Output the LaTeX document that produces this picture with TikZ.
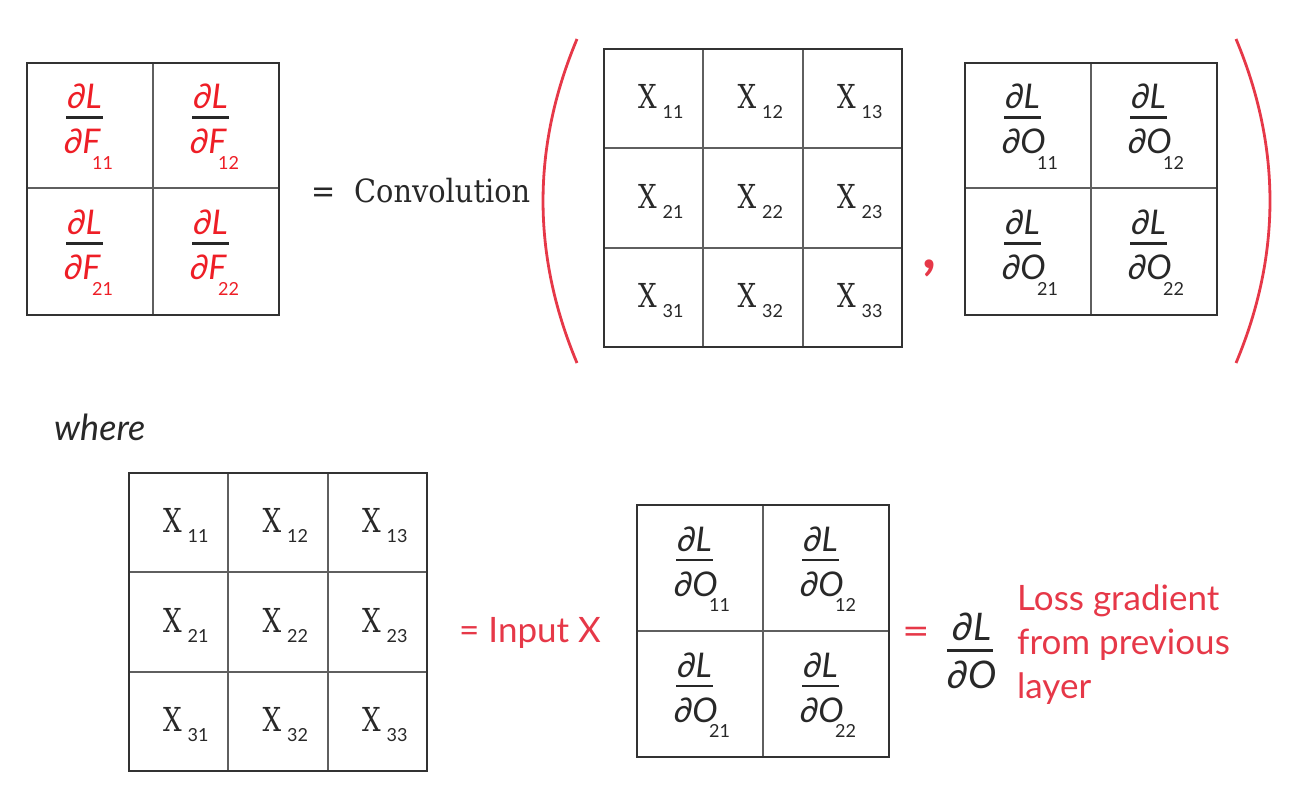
\documentclass[tikz,border=0pt]{standalone}
\usepackage{fontspec}
\setmainfont{Lato}
\newfontfamily\seriffont{DejaVu Serif Condensed}
\newfontfamily\latofont{Lato}
\definecolor{redF}{RGB}{238,30,38}
\definecolor{redT}{RGB}{230,56,72}
\definecolor{ink}{RGB}{40,40,40}
\definecolor{gridout}{RGB}{50,50,50}
\definecolor{gridin}{RGB}{95,95,95}
\newcommand{\subfont}{\latofont\fontsize{18}{20}\selectfont\upshape}
\tikzset{
  outerbox/.style={draw=gridout, line width=2.8pt},
  innerline/.style={draw=gridin, line width=1.5pt},
  num/.style={inner sep=0pt, font=\fontsize{34}{40}\selectfont\itshape},
  xl/.style={inner sep=0pt, text=ink, font=\fontsize{33}{40}\selectfont\seriffont},
  fbar/.style={draw=ink, line width=2.6pt},
  paren/.style={draw=redT, line width=2.8pt},
  lbl/.style={inner sep=0pt, anchor=base west},
}
% gradient cell: name, cx, cy, colour, letter, subscript, subscript offset
\newcommand{\gcell}[7]{%
  \node[num, text=#4, anchor=base] (#1-n) at (#2-5.5, #3-17) {∂L};
  \draw[fbar] (#2-24, #3-8) -- (#2+13, #3-8);
  \node[num, text=#4, anchor=base west] (#1-d) at (#2-26, #3+28)
    {\makebox[0pt][l]{∂#5}\hspace{#7pt}\raisebox{-15.5pt}{\subfont #6}};
}
% input cell: name, cx, cy, subscript
\newcommand{\xcell}[4]{%
  \node[xl, anchor=base west] (#1-x) at (#2-15.5, #3+10)
    {\makebox[0pt][l]{\scalebox{0.88}[1]{X}}\hspace{24.5pt}\raisebox{-10pt}{\subfont #4}};
}
\begin{document}
\begin{tikzpicture}[x=1pt, y=-1pt]
\useasboundingbox (0,0) rectangle (1300,800);

% ---------- top: dL/dF matrix ----------
\draw[innerline] (153,63) -- (153,315) (27,188) -- (279,188);
\draw[outerbox] (27,63) rectangle (279,315);
\gcell{f11}{90}{125.5}{redF}{F}{11}{28}
\gcell{f12}{216}{125.5}{redF}{F}{12}{28}
\gcell{f21}{90}{251.5}{redF}{F}{21}{28}
\gcell{f22}{216}{251.5}{redF}{F}{22}{28}

% = Convolution
\node[lbl, text=ink, font=\fontsize{32}{40}\selectfont\seriffont] (eq1) at (311,202) {=};
\node[lbl, text=ink, font=\fontsize{32}{40}\selectfont\seriffont] (conv) at (354,202) {Convolution};

% left parenthesis
\draw[paren] (577,39) .. controls (531.7,147) and (531.7,255) .. (577,363);

% ---------- top: X matrix ----------
\draw[innerline] (703,49) -- (703,347) (803,49) -- (803,347)
                 (604,148) -- (902,148) (604,248) -- (902,248);
\draw[outerbox] (604,49) rectangle (902,347);
\xcell{tx11}{653.5}{98.5}{11}
\xcell{tx12}{753}{98.5}{12}
\xcell{tx13}{852.5}{98.5}{13}
\xcell{tx21}{653.5}{198}{21}
\xcell{tx22}{753}{198}{22}
\xcell{tx23}{852.5}{198}{23}
\xcell{tx31}{653.5}{297.5}{31}
\xcell{tx32}{753}{297.5}{32}
\xcell{tx33}{852.5}{297.5}{33}

% comma
\node[inner sep=0pt, anchor=base, text=redT, font=\fontsize{60}{60}\selectfont\bfseries] (comma) at (930,268) {,};

% ---------- top: dL/dO matrix ----------
\draw[innerline] (1091,63) -- (1091,315) (965,188) -- (1217,188);
\draw[outerbox] (965,63) rectangle (1217,315);
\gcell{o11}{1028}{125.5}{ink}{O}{11}{35}
\gcell{o12}{1154}{125.5}{ink}{O}{12}{35}
\gcell{o21}{1028}{251.5}{ink}{O}{21}{35}
\gcell{o22}{1154}{251.5}{ink}{O}{22}{35}

% right parenthesis
\draw[paren] (1236,39) .. controls (1281.3,147) and (1281.3,255) .. (1236,363);

% ---------- where ----------
\node[lbl, text=ink, font=\fontsize{36}{42}\selectfont\itshape] (where) at (54,440) {where};

% ---------- bottom: X matrix ----------
\draw[innerline] (228,473) -- (228,771) (328,473) -- (328,771)
                 (129,572) -- (427,572) (129,672) -- (427,672);
\draw[outerbox] (129,473) rectangle (427,771);
\xcell{bx11}{178.5}{522.5}{11}
\xcell{bx12}{278}{522.5}{12}
\xcell{bx13}{377.5}{522.5}{13}
\xcell{bx21}{178.5}{622}{21}
\xcell{bx22}{278}{622}{22}
\xcell{bx23}{377.5}{622}{23}
\xcell{bx31}{178.5}{721.5}{31}
\xcell{bx32}{278}{721.5}{32}
\xcell{bx33}{377.5}{721.5}{33}

\node[lbl, text=redT, font=\fontsize{35}{42}\selectfont] (inputx) at (459,642) {= Input X};

% ---------- bottom: dL/dO matrix ----------
\draw[innerline] (763,505) -- (763,757) (637,631) -- (889,631);
\draw[outerbox] (637,505) rectangle (889,757);
\gcell{b11}{700}{568}{ink}{O}{11}{35}
\gcell{b12}{826}{568}{ink}{O}{12}{35}
\gcell{b21}{700}{694}{ink}{O}{21}{35}
\gcell{b22}{826}{694}{ink}{O}{22}{35}

% = dL/dO  Loss gradient ...
\node[inner sep=0pt, anchor=base, text=redT, font=\fontsize{38}{44}\selectfont] (eq2) at (916.5,644) {\scalebox{1.25}[1]{=}};
\node[num, text=ink, anchor=base, font=\fontsize{38}{44}\selectfont\itshape] (gn) at (972,640) {∂L};
\draw[fbar, line width=3pt] (947,650) -- (993,650);
\node[num, text=ink, anchor=base, font=\fontsize{38}{44}\selectfont\itshape] (gd) at (972,688) {∂O};
\node[lbl, text=redT, font=\fontsize{35}{44}\selectfont] (loss1) at (1017,610) {Loss gradient};
\node[lbl, text=redT, font=\fontsize{35}{44}\selectfont] (loss2) at (1017,654) {from previous};
\node[lbl, text=redT, font=\fontsize{35}{44}\selectfont] (loss3) at (1017,698) {layer};
\end{tikzpicture}
\end{document}
